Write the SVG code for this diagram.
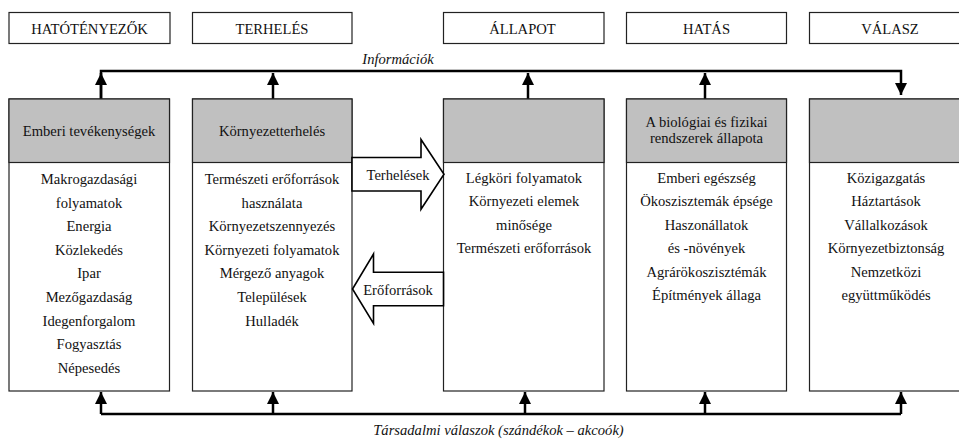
<svg xmlns="http://www.w3.org/2000/svg" width="959" height="439" viewBox="0 0 959 439" font-family="'Liberation Serif', 'DejaVu Serif', serif">
<style>
text{font-family:'Liberation Serif','DejaVu Serif',serif;font-size:14.6px;fill:#111;text-anchor:middle}
.it{font-style:italic}
.hdr{fill:#fff;stroke:#222;stroke-width:1.2}
.box{fill:#fff;stroke:#222;stroke-width:1.2}
.gray{fill:#c0c0c0;stroke:#222;stroke-width:1.2}
.conn{fill:none;stroke:#000;stroke-width:2.5}
.blk{fill:#fff;stroke:#000;stroke-width:1.6;stroke-linejoin:miter}
</style>
<defs>
<marker id="ah" markerUnits="userSpaceOnUse" markerWidth="12" markerHeight="12" viewBox="0 0 10 10" refX="10" refY="5" orient="auto">
<path d="M0,0 L10,5 L0,10 Z" fill="#000"/>
</marker>
</defs>

<g id="headers">
<g id="h-hatotenyezok"><rect class="hdr" x="9" y="12.5" width="161" height="31"/><text x="89.5" y="33.5">HATÓTÉNYEZŐK</text></g>
<g id="h-terheles"><rect class="hdr" x="192.5" y="12.5" width="159.5" height="31"/><text x="272" y="33.5">TERHELÉS</text></g>
<g id="h-allapot"><rect class="hdr" x="443.5" y="12.5" width="160.5" height="31"/><text x="522.5" y="33.5">ÁLLAPOT</text></g>
<g id="h-hatas"><rect class="hdr" x="626.5" y="12.5" width="160" height="31"/><text x="706.5" y="33.5">HATÁS</text></g>
<g id="h-valasz"><rect class="hdr" x="809.5" y="12.5" width="160" height="31"/><text x="890" y="33.5">VÁLASZ</text></g>
</g>

<g id="connectors">
<path class="conn" d="M101,99 V71 H901 V95" marker-end="url(#ah)"/>
<path class="conn" d="M101,99 V73" marker-end="url(#ah)"/>
<path class="conn" d="M273,99 V73" marker-end="url(#ah)"/>
<path class="conn" d="M528,99 V73" marker-end="url(#ah)"/>
<path class="conn" d="M705,99 V73" marker-end="url(#ah)"/>
<path class="conn" d="M101,414 H901"/>
<path class="conn" d="M101,414 V392" marker-end="url(#ah)"/>
<path class="conn" d="M273,414 V392" marker-end="url(#ah)"/>
<path class="conn" d="M525,414 V392" marker-end="url(#ah)"/>
<path class="conn" d="M705,414 V392" marker-end="url(#ah)"/>
<path class="conn" d="M901,414 V392" marker-end="url(#ah)"/>
<text class="it" x="398" y="63.5">Információk</text>
<text class="it" x="498.5" y="435">Társadalmi válaszok (szándékok – akcoók)</text>
</g>

<g id="node-emberi">
<rect class="box" x="9" y="99" width="160.5" height="292"/>
<rect class="gray" x="9" y="99" width="160.5" height="63.5"/>
<text x="89" y="136">Emberi tevékenységek</text>
<text x="89" y="184">Makrogazdasági</text>
<text x="89" y="207.6">folyamatok</text>
<text x="89" y="231.2">Energia</text>
<text x="89" y="254.8">Közlekedés</text>
<text x="89" y="278.4">Ipar</text>
<text x="89" y="302">Mezőgazdaság</text>
<text x="89" y="325.6">Idegenforgalom</text>
<text x="89" y="349.2">Fogyasztás</text>
<text x="89" y="372.8">Népesedés</text>
</g>

<g id="node-kornyezetterheles">
<rect class="box" x="192.5" y="99" width="159.5" height="292"/>
<rect class="gray" x="192.5" y="99" width="159.5" height="63.5"/>
<text x="272" y="136">Környezetterhelés</text>
<text x="272" y="184">Természeti erőforrások</text>
<text x="272" y="207.6">használata</text>
<text x="272" y="231.2">Környezetszennyezés</text>
<text x="272" y="254.8">Környezeti folyamatok</text>
<text x="272" y="278.4">Mérgező anyagok</text>
<text x="272" y="302">Települések</text>
<text x="272" y="325.6">Hulladék</text>
</g>

<g id="node-allapot">
<rect class="box" x="443.5" y="99" width="160.5" height="292"/>
<rect class="gray" x="443.5" y="99" width="160.5" height="63.5"/>
<text x="524" y="183">Légköri folyamatok</text>
<text x="524" y="206.4">Környezeti elemek</text>
<text x="524" y="229.8">minősége</text>
<text x="524" y="253.2">Természeti erőforrások</text>
</g>

<g id="node-hatas">
<rect class="box" x="626.5" y="99" width="160" height="292"/>
<rect class="gray" x="626.5" y="99" width="160" height="63.5"/>
<text x="706.5" y="126.7">A biológiai és fizikai</text>
<text x="706.5" y="143.3">rendszerek állapota</text>
<text x="706.5" y="183">Emberi egészség</text>
<text x="706.5" y="206.4">Ökoszisztemák épsége</text>
<text x="706.5" y="229.8">Haszonállatok</text>
<text x="706.5" y="253.2">és -növények</text>
<text x="706.5" y="276.6">Agrárökoszisztémák</text>
<text x="706.5" y="300">Építmények állaga</text>
</g>

<g id="node-valasz">
<rect class="box" x="809.5" y="99" width="160" height="292"/>
<rect class="gray" x="809.5" y="99" width="160" height="63.5"/>
<text x="886" y="183">Közigazgatás</text>
<text x="886" y="206.4">Háztartások</text>
<text x="886" y="229.8">Vállalkozások</text>
<text x="886" y="253.2">Környezetbiztonság</text>
<text x="886" y="276.6">Nemzetközi</text>
<text x="886" y="300">együttműködés</text>
</g>

<g id="arrow-terhelesek">
<path class="blk" d="M352,157.5 H421 V139.5 L444,174.3 L421,209.3 V191 H352 Z"/>
<text x="398" y="180">Terhelések</text>
</g>

<g id="arrow-eroforrasok">
<path class="blk" d="M443.5,272.3 H373.5 V254 L352.5,289 L373.5,323.5 V305.7 H443.5 Z"/>
<text x="398" y="295">Erőforrások</text>
</g>
</svg>
